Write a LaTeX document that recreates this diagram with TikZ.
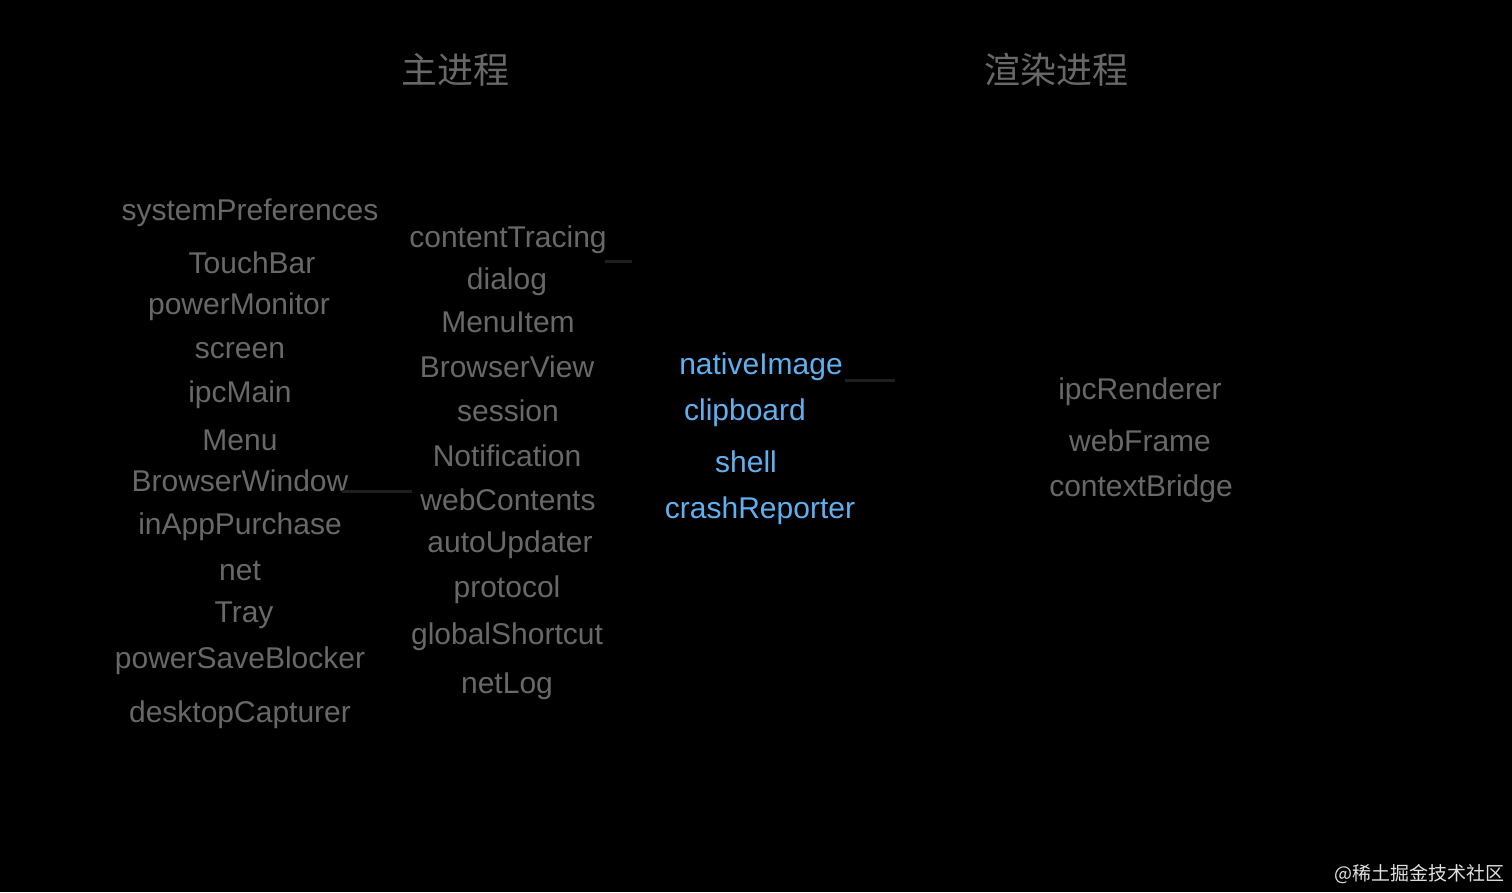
\documentclass[tikz,border=0pt]{standalone}
\usepackage{fontspec}
\setmainfont{Liberation Sans}
\newfontfamily\cjk{Noto Sans CJK SC}
\definecolor{txtgray}{RGB}{104,104,104}
\definecolor{sharedblue}{RGB}{96,176,240}
\definecolor{faintline}{RGB}{30,30,30}
\definecolor{wmark}{RGB}{225,225,225}
\begin{document}
\begin{tikzpicture}[x=1pt,y=-1pt,
  modtext/.style={inner sep=0pt,text=txtgray,font=\fontsize{30}{36}\selectfont},
  sharedtext/.style={inner sep=0pt,text=sharedblue,font=\fontsize{30}{36}\selectfont},
  titletext/.style={inner sep=0pt,text=txtgray,font=\cjk\fontsize{36}{42}\selectfont},
  faint/.style={draw=faintline,line width=3pt}]
\path[fill=black] (0,0) rectangle (1512,892);
% titles
\node[titletext] (tmain) at (455,70) {主进程};
\node[titletext] (trend) at (1056,70) {渲染进程};
% left column
\node[modtext] (L1) at (250,213) {systemPreferences};
\node[modtext] (L2) at (252,263) {TouchBar};
\node[modtext] (L3) at (239,307) {powerMonitor};
\node[modtext] (L4) at (240,351) {screen};
\node[modtext] (L5) at (240,395) {ipcMain};
\node[modtext] (L6) at (240,440) {Menu};
\node[modtext] (L7) at (240,481) {BrowserWindow};
\node[modtext] (L8) at (240,527) {inAppPurchase};
\node[modtext] (L9) at (240,571) {net};
\node[modtext] (L10) at (244,615) {Tray};
\node[modtext] (L11) at (240,661) {powerSaveBlocker};
\node[modtext] (L12) at (240,715) {desktopCapturer};
% middle column
\node[modtext] (M1) at (508,240) {contentTracing};
\node[modtext] (M2) at (507,282) {dialog};
\node[modtext] (M3) at (508,322) {MenuItem};
\node[modtext] (M4) at (507,367) {BrowserView};
\node[modtext] (M5) at (508,411) {session};
\node[modtext] (M6) at (507,456) {Notification};
\node[modtext] (M7) at (508,500) {webContents};
\node[modtext] (M8) at (510,545) {autoUpdater};
\node[modtext] (M9) at (507,590) {protocol};
\node[modtext] (M10) at (507,637) {globalShortcut};
\node[modtext] (M11) at (507,686) {netLog};
% shared column
\node[sharedtext] (S1) at (761,367) {nativeImage};
\node[sharedtext] (S2) at (745,413) {clipboard};
\node[sharedtext] (S3) at (746,462) {shell};
\node[sharedtext] (S4) at (760,511) {crashReporter};
% renderer column
\node[modtext] (R1) at (1140,392) {ipcRenderer};
\node[modtext] (R2) at (1140,441) {webFrame};
\node[modtext] (R3) at (1141,489) {contextBridge};
% faint connectors
\coordinate (c1) at (412,491);
\coordinate (c2) at (632,261);
\coordinate (c3) at (895,380);
\draw[faint] (L7.east |- c1) ++(-7,0) -- (c1);
\draw[faint] (M1.east |- c2) ++(-2,0) -- (c2);
\draw[faint] (S1.east |- c3) ++(2,0) -- (c3);
% watermark
\node[inner sep=0pt,text=wmark,font=\cjk\fontsize{19}{22}\selectfont,anchor=east] (wm) at (1505,874) {@稀土掘金技术社区};
\end{tikzpicture}
\end{document}
